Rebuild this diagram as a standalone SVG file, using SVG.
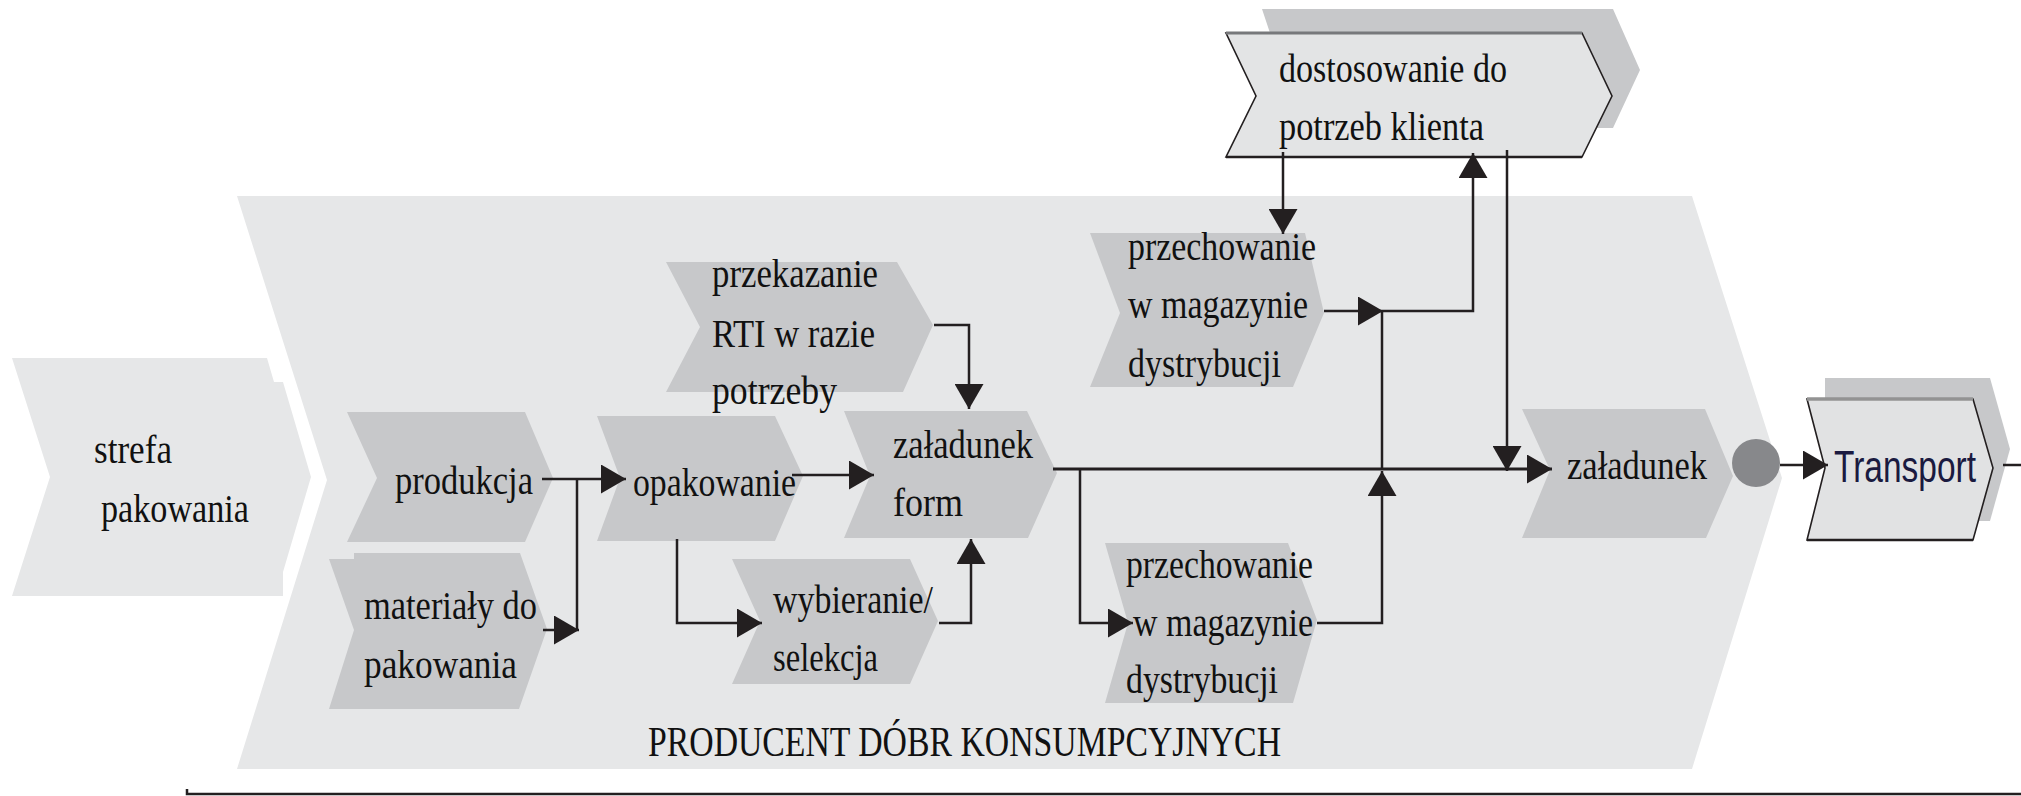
<svg xmlns="http://www.w3.org/2000/svg" width="2021" height="796" viewBox="0 0 2021 796">
<style>
.bg{fill:#e6e7e8}
.nd{fill:#c7c8ca}
.t{font-family:"Liberation Serif","Times New Roman",serif;font-size:41px;fill:#111}
.big{font-family:"Liberation Serif","Times New Roman",serif;font-size:42px;fill:#111}
.sans{font-family:"Liberation Sans",Arial,sans-serif;font-size:44px;fill:#1a1a40}
.ln{fill:none;stroke:#231f20;stroke-width:2.5}
.main{fill:none;stroke:#231f20;stroke-width:3.2}
</style>
<defs>
<marker id="ah" markerUnits="userSpaceOnUse" markerWidth="25" markerHeight="29" refX="25" refY="14.5" orient="auto">
<path d="M0,0 L25,14.5 L0,29 Z" fill="#231f20"/>
</marker>
</defs>
<rect width="2021" height="796" fill="#ffffff"/>

<g id="strefa">
<path class="bg" d="M12,358 H267 L274,382 H283 L311,477 L283,572 V596 H12 L50,477 Z"/>
<text class="t" x="94" y="463" textLength="78" lengthAdjust="spacingAndGlyphs">strefa</text>
<text class="t" x="101" y="522" textLength="148" lengthAdjust="spacingAndGlyphs">pakowania</text>
</g>

<g id="producent">
<path class="bg" d="M237,196 H1692 L1782,478 L1692,769 H237 L327,480 Z"/>
<text class="big" x="648" y="756" textLength="633" lengthAdjust="spacingAndGlyphs">PRODUCENT DÓBR KONSUMPCYJNYCH</text>
</g>

<g id="produkcja">
<path class="nd" d="M347,412 H525 L553,478 L525,542 H347 L377,478 Z"/>
<text class="t" x="395" y="494" textLength="138" lengthAdjust="spacingAndGlyphs">produkcja</text>
</g>

<g id="materialy">
<path class="nd" d="M329,559 H354 V553 H520 L547,629 L519,709 H329 L354,630 Z"/>
<text class="t" x="364" y="619" textLength="173" lengthAdjust="spacingAndGlyphs">materiały do</text>
<text class="t" x="364" y="678" textLength="153" lengthAdjust="spacingAndGlyphs">pakowania</text>
</g>

<g id="przekazanie">
<path class="nd" d="M666,262 H897 L933,325 L903,392 H666 L700,327 Z"/>
<text class="t" x="712" y="287" textLength="166" lengthAdjust="spacingAndGlyphs">przekazanie</text>
<text class="t" x="712" y="347" textLength="163" lengthAdjust="spacingAndGlyphs">RTI w razie</text>
<text class="t" x="712" y="404" textLength="125" lengthAdjust="spacingAndGlyphs">potrzeby</text>
</g>

<g id="opakowanie">
<path class="nd" d="M597,416 H775 L803,476 L775,541 H597 L620,478 Z"/>
<text class="t" x="633" y="496" textLength="163" lengthAdjust="spacingAndGlyphs">opakowanie</text>
</g>

<g id="zaladunek-form">
<path class="nd" d="M844,411 H1027 L1057,473 L1028,538 H844 L870,476 Z"/>
<text class="t" x="893" y="458" textLength="140" lengthAdjust="spacingAndGlyphs">załadunek</text>
<text class="t" x="893" y="516" textLength="70" lengthAdjust="spacingAndGlyphs">form</text>
</g>

<g id="wybieranie">
<path class="nd" d="M732,559 H910 L938,621 L910,684 H732 L760,621 Z"/>
<text class="t" x="773" y="613" textLength="160" lengthAdjust="spacingAndGlyphs">wybieranie/</text>
<text class="t" x="773" y="671" textLength="105" lengthAdjust="spacingAndGlyphs">selekcja</text>
</g>

<g id="przechowanie-gora">
<path class="nd" d="M1090,233 H1305 L1324,313 L1293,387 H1090 L1120,313 Z"/>
<text class="t" x="1128" y="260" textLength="188" lengthAdjust="spacingAndGlyphs">przechowanie</text>
<text class="t" x="1128" y="318" textLength="180" lengthAdjust="spacingAndGlyphs">w magazynie</text>
<text class="t" x="1128" y="377" textLength="153" lengthAdjust="spacingAndGlyphs">dystrybucji</text>
</g>

<g id="przechowanie-dol">
<path class="nd" d="M1105,543 H1288 L1317,620 L1293,703 H1105 L1128,623 Z"/>
<text class="t" x="1126" y="578" textLength="187" lengthAdjust="spacingAndGlyphs">przechowanie</text>
<text class="t" x="1133" y="636" textLength="180" lengthAdjust="spacingAndGlyphs">w magazynie</text>
<text class="t" x="1126" y="693" textLength="152" lengthAdjust="spacingAndGlyphs">dystrybucji</text>
</g>

<g id="zaladunek">
<path class="nd" d="M1522,409 H1705 L1733,476 L1706,538 H1522 L1550,470 Z"/>
<text class="t" x="1567" y="479" textLength="140" lengthAdjust="spacingAndGlyphs">załadunek</text>
</g>

<g id="zdarzenie">
<circle cx="1756" cy="463" r="24" fill="#87888b"/>
</g>

<g id="dostosowanie">
<path fill="#c7c8ca" d="M1262,9 H1613 L1640,70 L1613,128 H1270 L1270,33 Z"/>
<path fill="#e3e4e5" stroke="#231f20" stroke-width="1.6" d="M1226,33 H1582 L1612,96 L1582,157 H1226 L1256,96 Z"/>
<line x1="1226" y1="33" x2="1582" y2="33" stroke="#77787b" stroke-width="3"/>
<line x1="1226" y1="157" x2="1582" y2="157" stroke="#231f20" stroke-width="2.6"/>
<text class="t" x="1279" y="82" textLength="228" lengthAdjust="spacingAndGlyphs">dostosowanie do</text>
<text class="t" x="1279" y="140" textLength="205" lengthAdjust="spacingAndGlyphs">potrzeb klienta</text>
</g>

<g id="transport">
<path fill="#c7c8ca" d="M1825,378 H1990 L2010,449 L1990,521 H1825 Z"/>
<path fill="#e1e2e3" stroke="#231f20" stroke-width="1.6" d="M1807,399 H1973 L1993,468 L1973,540 H1807 L1825,468 Z"/>
<line x1="1807" y1="399" x2="1973" y2="399" stroke="#939393" stroke-width="3.5"/>
<line x1="1807" y1="540" x2="1973" y2="540" stroke="#231f20" stroke-width="2.4"/>
<text class="sans" x="1834" y="482" textLength="142" lengthAdjust="spacingAndGlyphs">Transport</text>
</g>

<g id="connectors">
<path class="ln" d="M542,479 H626" marker-end="url(#ah)"/>
<path class="ln" d="M577,479 V630"/>
<path class="ln" d="M543,630 H579" marker-end="url(#ah)"/>
<path class="ln" d="M792,475 H874" marker-end="url(#ah)"/>
<path class="ln" d="M677,539 V623 H762" marker-end="url(#ah)"/>
<path class="ln" d="M939,623 H971 V539" marker-end="url(#ah)"/>
<path class="ln" d="M934,325 H969 V409" marker-end="url(#ah)"/>
<path class="main" d="M1053,469 H1552" marker-end="url(#ah)"/>
<path class="ln" d="M1080,469 V623 H1133" marker-end="url(#ah)"/>
<path class="ln" d="M1317,623 H1382 V471" marker-end="url(#ah)"/>
<path class="ln" d="M1382,311 V469"/>
<path class="ln" d="M1324,311 H1383" marker-end="url(#ah)"/>
<path class="ln" d="M1383,311 H1473 V153" marker-end="url(#ah)"/>
<path class="ln" d="M1283,152 V234" marker-end="url(#ah)"/>
<path class="ln" d="M1507,150 V471" marker-end="url(#ah)"/>
<path class="ln" d="M1780,465 H1828" marker-end="url(#ah)"/>
<path class="ln" d="M2003,465 H2021"/>
<path class="ln" d="M187,789 V794 H2021"/>
</g>
</svg>
